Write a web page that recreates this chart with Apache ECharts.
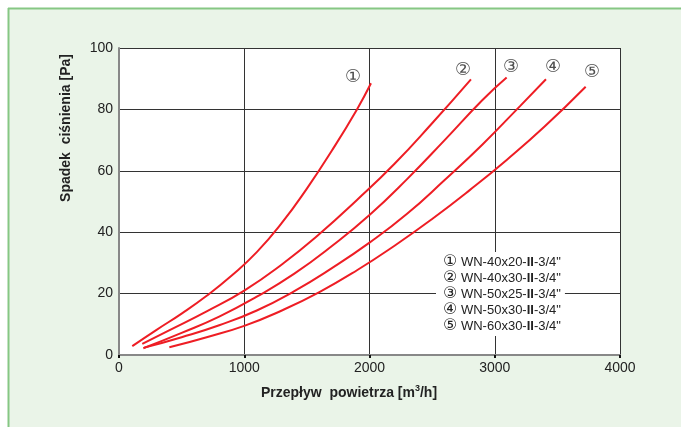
<!DOCTYPE html>
<html><head><meta charset="utf-8">
<script src="https://cdn.jsdelivr.net/npm/echarts@6/dist/echarts.min.js"></script>
<style>html,body{margin:0;padding:0;background:#fff}#c{width:681px;height:427px}</style>
</head><body><div id="c"></div>
<script>
const seriesNames = ['WN-40x20-II-3/4"', 'WN-40x30-II-3/4"', 'WN-50x25-II-3/4"', 'WN-50x30-II-3/4"', 'WN-60x30-II-3/4"'];
const marks = ['①', '②', '③', '④', '⑤'];
const q1 = [106, 300, 500, 700, 900, 1100, 1300, 1500, 1700, 1900, 2012];
const p1 = [2.9, 8.2, 13.5, 19.3, 25.9, 33.5, 43, 54.2, 66.6, 80, 88.5];
const q2 = [186, 400, 700, 1000, 1300, 1600, 1900, 2200, 2500, 2810];
const p2 = [3.6, 8, 14.2, 21, 29.5, 39.4, 50.5, 62.3, 75.5, 89.8];
const q3 = [194, 500, 800, 1100, 1400, 1700, 2000, 2300, 2600, 2900, 3095];
const p3 = [2.2, 7.2, 12.5, 19, 26.5, 35.5, 45.6, 57.3, 70, 83, 90.4];
const q4 = [202, 500, 800, 1100, 1400, 1700, 2000, 2300, 2600, 2900, 3200, 3409];
const p4 = [2.4, 5.8, 9.7, 14.5, 20.8, 28.3, 36.6, 46, 57, 68.5, 81, 89.8];
const q5 = [402, 700, 1000, 1300, 1600, 1900, 2200, 2500, 2800, 3100, 3400, 3726];
const p5 = [2.5, 5.8, 9.5, 14.5, 20.5, 27.6, 35.6, 44.3, 53.7, 63.7, 74.5, 87.4];
const labelQ = [1868, 2747, 3130, 3465, 3776];
const labelP = [90.5, 92.8, 93.8, 93.8, 92.2];
const xTicks = [0, 1000, 2000, 3000, 4000];
const yTicks = [0, 20, 40, 60, 80, 100];

const Q = [q1, q2, q3, q4, q5], P = [p1, p2, p3, p4, p5];
const font = '"Liberation Sans", Arial, sans-serif';
const circ = '"DejaVu Sans", "Liberation Sans", sans-serif';
const series = seriesNames.map((n, i) => ({
  name: n, type: 'line', smooth: 0.5, showSymbol: false, symbol: 'none',
  lineStyle: { color: '#ee1d24', width: 2 }, itemStyle: { color: '#ee1d24' },
  data: Q[i].map((q, k) => [q, P[i][k]])
}));
series.push({
  type: 'scatter', symbolSize: 0, silent: true,
  data: labelQ.map((q, i) => ({ value: [q, labelP[i]], name: marks[i] })),
  label: { show: true, position: 'inside', formatter: p => p.name, color: '#222', fontSize: 18, fontFamily: circ }
});
const chart = echarts.init(document.getElementById('c'), null, { renderer: 'canvas' });
chart.setOption({
  animation: false,
  backgroundColor: '#fff',
  graphic: [
    { type: 'rect', shape: { x: 8, y: 8, width: 680, height: 430 }, style: { fill: '#eaf4e8' }, z: -10 },
    { type: 'line', shape: { x1: 8, y1: 8.5, x2: 681, y2: 8.5 }, style: { stroke: '#86c784', lineWidth: 2 }, z: -9 },
    { type: 'line', shape: { x1: 8.5, y1: 8, x2: 8.5, y2: 427 }, style: { stroke: '#86c784', lineWidth: 2 }, z: -9 },
    { type: 'text', x: 66, y: 128, rotation: Math.PI / 2, style: { text: 'Spadek  ciśnienia [Pa]', font: 'bold 14px ' + font, fill: '#222', textAlign: 'center', textVerticalAlign: 'middle' } },
    { type: 'text', x: 349, y: 393, style: { text: '{a|Przepływ  powietrza [m}{s|3}{a|/h]}', textAlign: 'center', textVerticalAlign: 'middle',
        rich: { a: { fill: '#222', fontWeight: 'bold', fontSize: 14, fontFamily: font }, s: { fontWeight: 'bold', fontSize: 9, fontFamily: font, fill: '#222', verticalAlign: 'top', padding: [0, 0, 8, 0] } } } }
  ],
  grid: { left: 119, right: 61, top: 48, bottom: 72, show: true, backgroundColor: '#fff', borderWidth: 0 },
  xAxis: {
    type: 'value', min: 0, max: 4000, interval: 1000,
    axisLine: { lineStyle: { color: '#888', width: 2 } },
    axisTick: { show: true, length: 3, lineStyle: { color: '#111', width: 2 } },
    axisLabel: { color: '#222', fontSize: 14, fontFamily: font, margin: 6, formatter: v => xTicks.includes(v) ? String(v) : '' },
    splitLine: { show: true, lineStyle: { color: '#333', width: 1 } }
  },
  yAxis: {
    type: 'value', min: 0, max: 100, interval: 20,
    axisLine: { show: true, lineStyle: { color: '#888', width: 2 } },
    axisTick: { show: false },
    axisLabel: { color: '#222', fontSize: 14, fontFamily: font, margin: 6, formatter: v => yTicks.includes(v) ? String(v) : '' },
    splitLine: { show: true, lineStyle: { color: '#333', width: 1 } }
  },
  legend: {
    data: seriesNames, orient: 'vertical', left: 436, top: 252, icon: 'none', itemWidth: 0, itemHeight: 10, itemGap: 0,
    backgroundColor: '#fff', padding: [2, 4, 2, 2], selectedMode: false,
    formatter: n => { const i = seriesNames.indexOf(n); const parts = n.split('II'); return '{c|' + marks[i] + '}{a| ' + parts[0] + '}{b|II}{a|' + parts[1] + '}'; },
    textStyle: { color: '#222', fontSize: 13, fontFamily: font,
      rich: { c: { fontSize: 16, fontFamily: circ, color: '#222', lineHeight: 16 }, a: { fontSize: 13, fontFamily: font, color: '#222', lineHeight: 16 }, b: { fontSize: 13, fontFamily: font, fontWeight: 'bold', color: '#222', lineHeight: 16 } } }
  },
  series
});
</script></body></html>
